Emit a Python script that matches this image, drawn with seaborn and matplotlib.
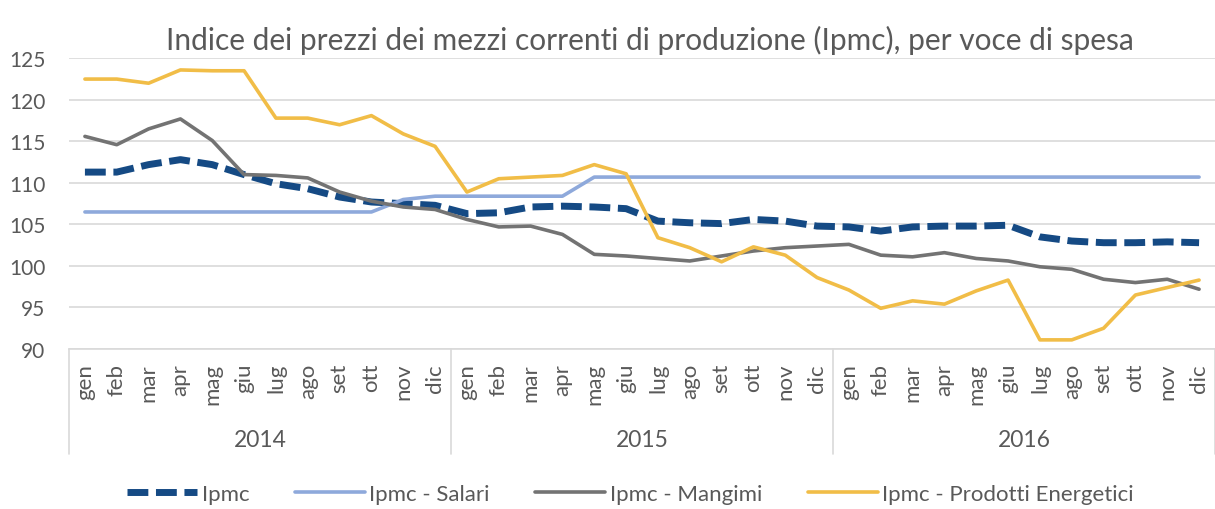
import numpy as np
import pandas as pd
import matplotlib
matplotlib.use("Agg")
import matplotlib.pyplot as plt
import matplotlib.transforms as mtransforms
import seaborn as sns

# dati (gen 2014 - dic 2016)
mesi = ["gen", "feb", "mar", "apr", "mag", "giu", "lug", "ago", "set", "ott", "nov", "dic"]
anni = ["2014", "2015", "2016"]

ipmc = [111.3, 111.3, 112.2, 112.8, 112.2, 111.0, 109.9, 109.3, 108.3, 107.7, 107.5, 107.3,
        106.3, 106.4, 107.1, 107.2, 107.1, 106.9, 105.4, 105.2, 105.1, 105.6, 105.4, 104.8,
        104.7, 104.2, 104.7, 104.8, 104.8, 104.9, 103.5, 103.0, 102.8, 102.8, 102.9, 102.8]
salari = [106.5, 106.5, 106.5, 106.5, 106.5, 106.5, 106.5, 106.5, 106.5, 106.5, 108.0, 108.4,
          108.4, 108.4, 108.4, 108.4, 110.7, 110.7, 110.7, 110.7, 110.7, 110.7, 110.7, 110.7,
          110.7, 110.7, 110.7, 110.7, 110.7, 110.7, 110.7, 110.7, 110.7, 110.7, 110.7, 110.7]
mangimi = [115.6, 114.6, 116.5, 117.7, 115.1, 111.0, 110.9, 110.6, 108.9, 107.8, 107.1, 106.8,
           105.6, 104.7, 104.8, 103.8, 101.4, 101.2, 100.9, 100.6, 101.2, 101.8, 102.2, 102.4,
           102.6, 101.3, 101.1, 101.6, 100.9, 100.6, 99.9, 99.6, 98.4, 98.0, 98.4, 97.2]
energetici = [122.5, 122.5, 122.0, 123.6, 123.5, 123.5, 117.8, 117.8, 117.0, 118.1, 115.9, 114.4,
              108.9, 110.5, 110.7, 110.9, 112.2, 111.1, 103.4, 102.2, 100.5, 102.3, 101.3, 98.6,
              97.1, 94.9, 95.8, 95.4, 97.0, 98.3, 91.1, 91.1, 92.5, 96.5, 97.4, 98.3]

serie = ["Ipmc", "Ipmc - Salari", "Ipmc - Mangimi", "Ipmc - Prodotti Energetici"]
colori = ["#154A84", "#8EA9DB", "#737373", "#F1BD47"]

df = pd.DataFrame({"x": np.arange(36), "Ipmc": ipmc, "Ipmc - Salari": salari,
                   "Ipmc - Mangimi": mangimi, "Ipmc - Prodotti Energetici": energetici})
long = df.melt(id_vars="x", var_name="serie", value_name="valore")

sns.set_theme(style="white")
plt.rcParams["font.family"] = ["Lato", "DejaVu Sans"]
testo = "#595959"

fig = plt.figure(figsize=(12.15, 5.1), dpi=100)
ax = fig.add_axes([0.0568, 0.3137, 0.9432, 0.57])

sns.lineplot(data=long, x="x", y="valore", hue="serie", style="serie",
             hue_order=serie, style_order=serie, palette=colori,
             dashes={"Ipmc": (3, 1.1), "Ipmc - Salari": "", "Ipmc - Mangimi": "",
                     "Ipmc - Prodotti Energetici": ""},
             ax=ax, legend=False)
larghezze = [5, 2.6, 2.6, 2.6]
for ln, lw in zip(ax.get_lines(), larghezze):
    ln.set_linewidth(lw)
    ln.set_solid_capstyle("round")
    ln.set_dash_capstyle("butt")

ax.set_xlim(-0.5, 35.5)
ax.set_ylim(90, 125)
ax.set_yticks(np.arange(90, 126, 5))
ax.yaxis.grid(True, color="#D9D9D9", lw=1.2)
ax.set_xticks(np.arange(36))
ax.set_xticklabels(mesi * 3, rotation=90, color=testo, fontsize=16)
ax.tick_params(axis="x", length=0, pad=10)
ax.tick_params(axis="y", length=0, pad=17, labelsize=15, labelcolor=testo)
for s in ["top", "right", "left"]:
    ax.spines[s].set_visible(False)
ax.spines["bottom"].set_color("#D9D9D9")
ax.spines["bottom"].set_linewidth(1.2)
ax.set_xlabel("")
ax.set_ylabel("")

# etichette anni e separatori
trans = mtransforms.blended_transform_factory(ax.transData, ax.transAxes)
for xs in [-0.5, 11.5, 23.5, 35.5]:
    ax.plot([xs, xs], [0, -0.36], color="#D9D9D9", lw=1.2, transform=trans, clip_on=False)
for i, a in enumerate(anni):
    ax.text(i * 12 + 5.5, -0.31, a, transform=trans, ha="center", va="center",
            fontsize=16.5, color=testo)

fig.suptitle("Indice dei prezzi dei mezzi correnti di produzione (Ipmc), per voce di spesa",
             x=0.535, y=0.95, fontsize=21.5, color=testo)

handles = [plt.Line2D([], [], color=c, lw=lw) for c, lw in zip(colori, larghezze)]
handles[0].set_dashes((3, 1.1))
fig.legend(handles, serie, loc="center", bbox_to_anchor=(0.519, 0.03), ncol=4,
           frameon=False, fontsize=16, handlelength=3.15, handletextpad=0.2,
           columnspacing=2.05, labelcolor=testo)

fig.savefig("out.png", dpi=100)
